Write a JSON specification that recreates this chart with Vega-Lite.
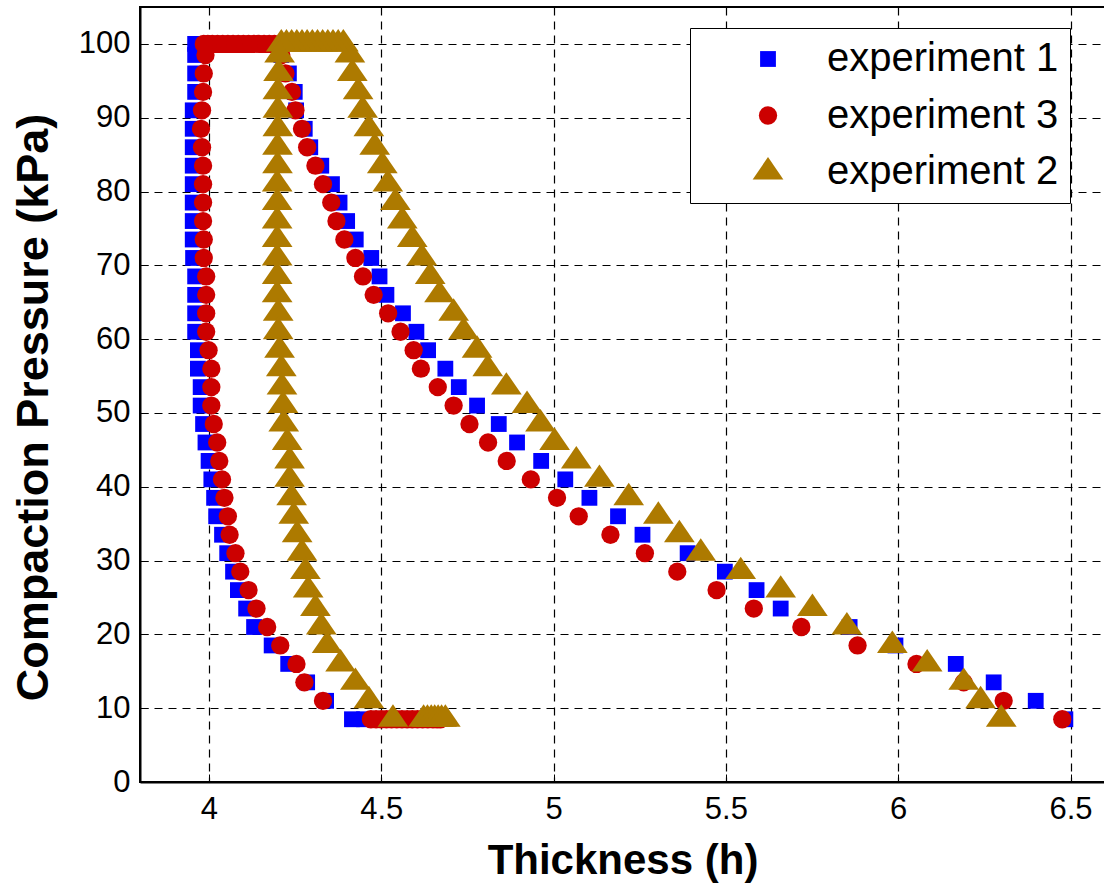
{
  "$schema": "https://vega.github.io/schema/vega-lite/v6.json",
  "width": 965,
  "height": 775,
  "autosize": {"type": "none"},
  "padding": {"left": 140, "top": 7, "right": 0, "bottom": 106},
  "background": "white",
  "config": {
    "font": "Liberation Sans",
    "view": {"stroke": "black", "strokeWidth": 2},
    "axis": {
      "domainColor": "black", "domainWidth": 2,
      "gridColor": "black", "gridDash": [8, 6], "gridWidth": 1.2, "gridOpacity": 1,
      "ticks": true, "tickSize": -8, "tickColor": "black", "tickWidth": 1,
      "labelFont": "Liberation Sans", "labelFontSize": 31, "labelColor": "black",
      "titleFont": "Liberation Sans", "titleFontWeight": "bold", "titleColor": "black"
    }
  },
  "data": {"values": [
    {"experiment": "experiment 1", "thickness": 6.485, "pressure": 8.5},
    {"experiment": "experiment 1", "thickness": 6.399, "pressure": 11},
    {"experiment": "experiment 1", "thickness": 6.277, "pressure": 13.5},
    {"experiment": "experiment 1", "thickness": 6.167, "pressure": 16},
    {"experiment": "experiment 1", "thickness": 5.992, "pressure": 18.5},
    {"experiment": "experiment 1", "thickness": 5.859, "pressure": 21},
    {"experiment": "experiment 1", "thickness": 5.659, "pressure": 23.5},
    {"experiment": "experiment 1", "thickness": 5.589, "pressure": 26},
    {"experiment": "experiment 1", "thickness": 5.497, "pressure": 28.5},
    {"experiment": "experiment 1", "thickness": 5.389, "pressure": 31},
    {"experiment": "experiment 1", "thickness": 5.258, "pressure": 33.5},
    {"experiment": "experiment 1", "thickness": 5.187, "pressure": 36},
    {"experiment": "experiment 1", "thickness": 5.104, "pressure": 38.5},
    {"experiment": "experiment 1", "thickness": 5.034, "pressure": 41},
    {"experiment": "experiment 1", "thickness": 4.964, "pressure": 43.5},
    {"experiment": "experiment 1", "thickness": 4.894, "pressure": 46},
    {"experiment": "experiment 1", "thickness": 4.841, "pressure": 48.5},
    {"experiment": "experiment 1", "thickness": 4.778, "pressure": 51},
    {"experiment": "experiment 1", "thickness": 4.725, "pressure": 53.5},
    {"experiment": "experiment 1", "thickness": 4.686, "pressure": 56},
    {"experiment": "experiment 1", "thickness": 4.636, "pressure": 58.5},
    {"experiment": "experiment 1", "thickness": 4.602, "pressure": 61},
    {"experiment": "experiment 1", "thickness": 4.563, "pressure": 63.5},
    {"experiment": "experiment 1", "thickness": 4.515, "pressure": 66},
    {"experiment": "experiment 1", "thickness": 4.495, "pressure": 68.5},
    {"experiment": "experiment 1", "thickness": 4.471, "pressure": 71},
    {"experiment": "experiment 1", "thickness": 4.426, "pressure": 73.5},
    {"experiment": "experiment 1", "thickness": 4.401, "pressure": 76},
    {"experiment": "experiment 1", "thickness": 4.379, "pressure": 78.5},
    {"experiment": "experiment 1", "thickness": 4.357, "pressure": 81},
    {"experiment": "experiment 1", "thickness": 4.326, "pressure": 83.5},
    {"experiment": "experiment 1", "thickness": 4.294, "pressure": 86},
    {"experiment": "experiment 1", "thickness": 4.278, "pressure": 88.5},
    {"experiment": "experiment 1", "thickness": 4.253, "pressure": 91},
    {"experiment": "experiment 1", "thickness": 4.249, "pressure": 93.5},
    {"experiment": "experiment 1", "thickness": 4.232, "pressure": 96},
    {"experiment": "experiment 1", "thickness": 4.21, "pressure": 98.5},
    {"experiment": "experiment 1", "thickness": 4.2, "pressure": 100},
    {"experiment": "experiment 1", "thickness": 4.17, "pressure": 100},
    {"experiment": "experiment 1", "thickness": 4.14, "pressure": 100},
    {"experiment": "experiment 1", "thickness": 4.11, "pressure": 100},
    {"experiment": "experiment 1", "thickness": 4.08, "pressure": 100},
    {"experiment": "experiment 1", "thickness": 4.05, "pressure": 100},
    {"experiment": "experiment 1", "thickness": 4.02, "pressure": 100},
    {"experiment": "experiment 1", "thickness": 3.99, "pressure": 100},
    {"experiment": "experiment 1", "thickness": 3.96, "pressure": 100},
    {"experiment": "experiment 1", "thickness": 3.96, "pressure": 98.5},
    {"experiment": "experiment 1", "thickness": 3.96, "pressure": 96},
    {"experiment": "experiment 1", "thickness": 3.96, "pressure": 93.5},
    {"experiment": "experiment 1", "thickness": 3.953, "pressure": 91},
    {"experiment": "experiment 1", "thickness": 3.953, "pressure": 88.5},
    {"experiment": "experiment 1", "thickness": 3.953, "pressure": 86},
    {"experiment": "experiment 1", "thickness": 3.953, "pressure": 83.5},
    {"experiment": "experiment 1", "thickness": 3.953, "pressure": 81},
    {"experiment": "experiment 1", "thickness": 3.953, "pressure": 78.5},
    {"experiment": "experiment 1", "thickness": 3.953, "pressure": 76},
    {"experiment": "experiment 1", "thickness": 3.953, "pressure": 73.5},
    {"experiment": "experiment 1", "thickness": 3.954, "pressure": 71},
    {"experiment": "experiment 1", "thickness": 3.96, "pressure": 68.5},
    {"experiment": "experiment 1", "thickness": 3.96, "pressure": 66},
    {"experiment": "experiment 1", "thickness": 3.96, "pressure": 63.5},
    {"experiment": "experiment 1", "thickness": 3.96, "pressure": 61},
    {"experiment": "experiment 1", "thickness": 3.968, "pressure": 58.5},
    {"experiment": "experiment 1", "thickness": 3.968, "pressure": 56},
    {"experiment": "experiment 1", "thickness": 3.976, "pressure": 53.5},
    {"experiment": "experiment 1", "thickness": 3.976, "pressure": 51},
    {"experiment": "experiment 1", "thickness": 3.983, "pressure": 48.5},
    {"experiment": "experiment 1", "thickness": 3.99, "pressure": 46},
    {"experiment": "experiment 1", "thickness": 3.999, "pressure": 43.5},
    {"experiment": "experiment 1", "thickness": 4.007, "pressure": 41},
    {"experiment": "experiment 1", "thickness": 4.015, "pressure": 38.5},
    {"experiment": "experiment 1", "thickness": 4.021, "pressure": 36},
    {"experiment": "experiment 1", "thickness": 4.038, "pressure": 33.5},
    {"experiment": "experiment 1", "thickness": 4.053, "pressure": 31},
    {"experiment": "experiment 1", "thickness": 4.07, "pressure": 28.5},
    {"experiment": "experiment 1", "thickness": 4.084, "pressure": 26},
    {"experiment": "experiment 1", "thickness": 4.108, "pressure": 23.5},
    {"experiment": "experiment 1", "thickness": 4.131, "pressure": 21},
    {"experiment": "experiment 1", "thickness": 4.182, "pressure": 18.5},
    {"experiment": "experiment 1", "thickness": 4.23, "pressure": 16},
    {"experiment": "experiment 1", "thickness": 4.285, "pressure": 13.5},
    {"experiment": "experiment 1", "thickness": 4.34, "pressure": 11},
    {"experiment": "experiment 1", "thickness": 4.415, "pressure": 8.5},
    {"experiment": "experiment 1", "thickness": 4.45, "pressure": 8.5},
    {"experiment": "experiment 1", "thickness": 4.49, "pressure": 8.5},
    {"experiment": "experiment 1", "thickness": 4.53, "pressure": 8.5},
    {"experiment": "experiment 1", "thickness": 4.57, "pressure": 8.5},
    {"experiment": "experiment 1", "thickness": 4.61, "pressure": 8.5},

    {"experiment": "experiment 3", "thickness": 6.476, "pressure": 8.5},
    {"experiment": "experiment 3", "thickness": 6.306, "pressure": 11},
    {"experiment": "experiment 3", "thickness": 6.19, "pressure": 13.5},
    {"experiment": "experiment 3", "thickness": 6.053, "pressure": 16},
    {"experiment": "experiment 3", "thickness": 5.882, "pressure": 18.5},
    {"experiment": "experiment 3", "thickness": 5.719, "pressure": 21},
    {"experiment": "experiment 3", "thickness": 5.581, "pressure": 23.5},
    {"experiment": "experiment 3", "thickness": 5.473, "pressure": 26},
    {"experiment": "experiment 3", "thickness": 5.359, "pressure": 28.5},
    {"experiment": "experiment 3", "thickness": 5.265, "pressure": 31},
    {"experiment": "experiment 3", "thickness": 5.165, "pressure": 33.5},
    {"experiment": "experiment 3", "thickness": 5.073, "pressure": 36},
    {"experiment": "experiment 3", "thickness": 5.01, "pressure": 38.5},
    {"experiment": "experiment 3", "thickness": 4.934, "pressure": 41},
    {"experiment": "experiment 3", "thickness": 4.864, "pressure": 43.5},
    {"experiment": "experiment 3", "thickness": 4.81, "pressure": 46},
    {"experiment": "experiment 3", "thickness": 4.756, "pressure": 48.5},
    {"experiment": "experiment 3", "thickness": 4.71, "pressure": 51},
    {"experiment": "experiment 3", "thickness": 4.664, "pressure": 53.5},
    {"experiment": "experiment 3", "thickness": 4.615, "pressure": 56},
    {"experiment": "experiment 3", "thickness": 4.594, "pressure": 58.5},
    {"experiment": "experiment 3", "thickness": 4.556, "pressure": 61},
    {"experiment": "experiment 3", "thickness": 4.52, "pressure": 63.5},
    {"experiment": "experiment 3", "thickness": 4.478, "pressure": 66},
    {"experiment": "experiment 3", "thickness": 4.447, "pressure": 68.5},
    {"experiment": "experiment 3", "thickness": 4.425, "pressure": 71},
    {"experiment": "experiment 3", "thickness": 4.393, "pressure": 73.5},
    {"experiment": "experiment 3", "thickness": 4.37, "pressure": 76},
    {"experiment": "experiment 3", "thickness": 4.355, "pressure": 78.5},
    {"experiment": "experiment 3", "thickness": 4.331, "pressure": 81},
    {"experiment": "experiment 3", "thickness": 4.309, "pressure": 83.5},
    {"experiment": "experiment 3", "thickness": 4.285, "pressure": 86},
    {"experiment": "experiment 3", "thickness": 4.27, "pressure": 88.5},
    {"experiment": "experiment 3", "thickness": 4.251, "pressure": 91},
    {"experiment": "experiment 3", "thickness": 4.241, "pressure": 93.5},
    {"experiment": "experiment 3", "thickness": 4.222, "pressure": 96},
    {"experiment": "experiment 3", "thickness": 4.21, "pressure": 98.5},
    {"experiment": "experiment 3", "thickness": 4.19, "pressure": 100},
    {"experiment": "experiment 3", "thickness": 4.175, "pressure": 100},
    {"experiment": "experiment 3", "thickness": 4.16, "pressure": 100},
    {"experiment": "experiment 3", "thickness": 4.145, "pressure": 100},
    {"experiment": "experiment 3", "thickness": 4.13, "pressure": 100},
    {"experiment": "experiment 3", "thickness": 4.115, "pressure": 100},
    {"experiment": "experiment 3", "thickness": 4.1, "pressure": 100},
    {"experiment": "experiment 3", "thickness": 4.085, "pressure": 100},
    {"experiment": "experiment 3", "thickness": 4.07, "pressure": 100},
    {"experiment": "experiment 3", "thickness": 4.055, "pressure": 100},
    {"experiment": "experiment 3", "thickness": 4.04, "pressure": 100},
    {"experiment": "experiment 3", "thickness": 4.025, "pressure": 100},
    {"experiment": "experiment 3", "thickness": 4.01, "pressure": 100},
    {"experiment": "experiment 3", "thickness": 3.997, "pressure": 100},
    {"experiment": "experiment 3", "thickness": 3.985, "pressure": 100},
    {"experiment": "experiment 3", "thickness": 3.99, "pressure": 98.5},
    {"experiment": "experiment 3", "thickness": 3.985, "pressure": 96},
    {"experiment": "experiment 3", "thickness": 3.983, "pressure": 93.5},
    {"experiment": "experiment 3", "thickness": 3.98, "pressure": 91},
    {"experiment": "experiment 3", "thickness": 3.977, "pressure": 88.5},
    {"experiment": "experiment 3", "thickness": 3.98, "pressure": 86},
    {"experiment": "experiment 3", "thickness": 3.983, "pressure": 83.5},
    {"experiment": "experiment 3", "thickness": 3.983, "pressure": 81},
    {"experiment": "experiment 3", "thickness": 3.983, "pressure": 78.5},
    {"experiment": "experiment 3", "thickness": 3.983, "pressure": 76},
    {"experiment": "experiment 3", "thickness": 3.985, "pressure": 73.5},
    {"experiment": "experiment 3", "thickness": 3.985, "pressure": 71},
    {"experiment": "experiment 3", "thickness": 3.992, "pressure": 68.5},
    {"experiment": "experiment 3", "thickness": 3.992, "pressure": 66},
    {"experiment": "experiment 3", "thickness": 3.992, "pressure": 63.5},
    {"experiment": "experiment 3", "thickness": 3.992, "pressure": 61},
    {"experiment": "experiment 3", "thickness": 3.999, "pressure": 58.5},
    {"experiment": "experiment 3", "thickness": 4.007, "pressure": 56},
    {"experiment": "experiment 3", "thickness": 4.007, "pressure": 53.5},
    {"experiment": "experiment 3", "thickness": 4.007, "pressure": 51},
    {"experiment": "experiment 3", "thickness": 4.014, "pressure": 48.5},
    {"experiment": "experiment 3", "thickness": 4.024, "pressure": 46},
    {"experiment": "experiment 3", "thickness": 4.03, "pressure": 43.5},
    {"experiment": "experiment 3", "thickness": 4.038, "pressure": 41},
    {"experiment": "experiment 3", "thickness": 4.045, "pressure": 38.5},
    {"experiment": "experiment 3", "thickness": 4.055, "pressure": 36},
    {"experiment": "experiment 3", "thickness": 4.06, "pressure": 33.5},
    {"experiment": "experiment 3", "thickness": 4.077, "pressure": 31},
    {"experiment": "experiment 3", "thickness": 4.091, "pressure": 28.5},
    {"experiment": "experiment 3", "thickness": 4.115, "pressure": 26},
    {"experiment": "experiment 3", "thickness": 4.138, "pressure": 23.5},
    {"experiment": "experiment 3", "thickness": 4.169, "pressure": 21},
    {"experiment": "experiment 3", "thickness": 4.207, "pressure": 18.5},
    {"experiment": "experiment 3", "thickness": 4.254, "pressure": 16},
    {"experiment": "experiment 3", "thickness": 4.277, "pressure": 13.5},
    {"experiment": "experiment 3", "thickness": 4.331, "pressure": 11},
    {"experiment": "experiment 3", "thickness": 4.47, "pressure": 8.5},
    {"experiment": "experiment 3", "thickness": 4.485, "pressure": 8.5},
    {"experiment": "experiment 3", "thickness": 4.5, "pressure": 8.5},
    {"experiment": "experiment 3", "thickness": 4.515, "pressure": 8.5},
    {"experiment": "experiment 3", "thickness": 4.53, "pressure": 8.5},
    {"experiment": "experiment 3", "thickness": 4.545, "pressure": 8.5},
    {"experiment": "experiment 3", "thickness": 4.56, "pressure": 8.5},
    {"experiment": "experiment 3", "thickness": 4.575, "pressure": 8.5},
    {"experiment": "experiment 3", "thickness": 4.59, "pressure": 8.5},
    {"experiment": "experiment 3", "thickness": 4.605, "pressure": 8.5},
    {"experiment": "experiment 3", "thickness": 4.62, "pressure": 8.5},
    {"experiment": "experiment 3", "thickness": 4.635, "pressure": 8.5},
    {"experiment": "experiment 3", "thickness": 4.65, "pressure": 8.5},
    {"experiment": "experiment 3", "thickness": 4.662, "pressure": 8.5},
    {"experiment": "experiment 3", "thickness": 4.672, "pressure": 8.5},

    {"experiment": "experiment 2", "thickness": 6.299, "pressure": 8.5},
    {"experiment": "experiment 2", "thickness": 6.239, "pressure": 11},
    {"experiment": "experiment 2", "thickness": 6.19, "pressure": 13.5},
    {"experiment": "experiment 2", "thickness": 6.084, "pressure": 16},
    {"experiment": "experiment 2", "thickness": 5.983, "pressure": 18.5},
    {"experiment": "experiment 2", "thickness": 5.851, "pressure": 21},
    {"experiment": "experiment 2", "thickness": 5.751, "pressure": 23.5},
    {"experiment": "experiment 2", "thickness": 5.659, "pressure": 26},
    {"experiment": "experiment 2", "thickness": 5.543, "pressure": 28.5},
    {"experiment": "experiment 2", "thickness": 5.427, "pressure": 31},
    {"experiment": "experiment 2", "thickness": 5.365, "pressure": 33.5},
    {"experiment": "experiment 2", "thickness": 5.304, "pressure": 36},
    {"experiment": "experiment 2", "thickness": 5.218, "pressure": 38.5},
    {"experiment": "experiment 2", "thickness": 5.133, "pressure": 41},
    {"experiment": "experiment 2", "thickness": 5.066, "pressure": 43.5},
    {"experiment": "experiment 2", "thickness": 5.003, "pressure": 46},
    {"experiment": "experiment 2", "thickness": 4.962, "pressure": 48.5},
    {"experiment": "experiment 2", "thickness": 4.923, "pressure": 51},
    {"experiment": "experiment 2", "thickness": 4.863, "pressure": 53.5},
    {"experiment": "experiment 2", "thickness": 4.809, "pressure": 56},
    {"experiment": "experiment 2", "thickness": 4.778, "pressure": 58.5},
    {"experiment": "experiment 2", "thickness": 4.739, "pressure": 61},
    {"experiment": "experiment 2", "thickness": 4.71, "pressure": 63.5},
    {"experiment": "experiment 2", "thickness": 4.669, "pressure": 66},
    {"experiment": "experiment 2", "thickness": 4.642, "pressure": 68.5},
    {"experiment": "experiment 2", "thickness": 4.618, "pressure": 71},
    {"experiment": "experiment 2", "thickness": 4.59, "pressure": 73.5},
    {"experiment": "experiment 2", "thickness": 4.561, "pressure": 76},
    {"experiment": "experiment 2", "thickness": 4.541, "pressure": 78.5},
    {"experiment": "experiment 2", "thickness": 4.519, "pressure": 81},
    {"experiment": "experiment 2", "thickness": 4.503, "pressure": 83.5},
    {"experiment": "experiment 2", "thickness": 4.481, "pressure": 86},
    {"experiment": "experiment 2", "thickness": 4.464, "pressure": 88.5},
    {"experiment": "experiment 2", "thickness": 4.446, "pressure": 91},
    {"experiment": "experiment 2", "thickness": 4.433, "pressure": 93.5},
    {"experiment": "experiment 2", "thickness": 4.416, "pressure": 96},
    {"experiment": "experiment 2", "thickness": 4.409, "pressure": 98.5},
    {"experiment": "experiment 2", "thickness": 4.39, "pressure": 100},
    {"experiment": "experiment 2", "thickness": 4.375, "pressure": 100},
    {"experiment": "experiment 2", "thickness": 4.36, "pressure": 100},
    {"experiment": "experiment 2", "thickness": 4.345, "pressure": 100},
    {"experiment": "experiment 2", "thickness": 4.33, "pressure": 100},
    {"experiment": "experiment 2", "thickness": 4.315, "pressure": 100},
    {"experiment": "experiment 2", "thickness": 4.3, "pressure": 100},
    {"experiment": "experiment 2", "thickness": 4.285, "pressure": 100},
    {"experiment": "experiment 2", "thickness": 4.27, "pressure": 100},
    {"experiment": "experiment 2", "thickness": 4.255, "pressure": 100},
    {"experiment": "experiment 2", "thickness": 4.24, "pressure": 100},
    {"experiment": "experiment 2", "thickness": 4.225, "pressure": 100},
    {"experiment": "experiment 2", "thickness": 4.21, "pressure": 100},
    {"experiment": "experiment 2", "thickness": 4.205, "pressure": 98.5},
    {"experiment": "experiment 2", "thickness": 4.202, "pressure": 96},
    {"experiment": "experiment 2", "thickness": 4.2, "pressure": 93.5},
    {"experiment": "experiment 2", "thickness": 4.2, "pressure": 91},
    {"experiment": "experiment 2", "thickness": 4.2, "pressure": 88.5},
    {"experiment": "experiment 2", "thickness": 4.199, "pressure": 86},
    {"experiment": "experiment 2", "thickness": 4.199, "pressure": 83.5},
    {"experiment": "experiment 2", "thickness": 4.198, "pressure": 81},
    {"experiment": "experiment 2", "thickness": 4.198, "pressure": 78.5},
    {"experiment": "experiment 2", "thickness": 4.198, "pressure": 76},
    {"experiment": "experiment 2", "thickness": 4.198, "pressure": 73.5},
    {"experiment": "experiment 2", "thickness": 4.198, "pressure": 71},
    {"experiment": "experiment 2", "thickness": 4.198, "pressure": 68.5},
    {"experiment": "experiment 2", "thickness": 4.198, "pressure": 66},
    {"experiment": "experiment 2", "thickness": 4.201, "pressure": 63.5},
    {"experiment": "experiment 2", "thickness": 4.201, "pressure": 61},
    {"experiment": "experiment 2", "thickness": 4.205, "pressure": 58.5},
    {"experiment": "experiment 2", "thickness": 4.21, "pressure": 56},
    {"experiment": "experiment 2", "thickness": 4.212, "pressure": 53.5},
    {"experiment": "experiment 2", "thickness": 4.215, "pressure": 51},
    {"experiment": "experiment 2", "thickness": 4.217, "pressure": 48.5},
    {"experiment": "experiment 2", "thickness": 4.227, "pressure": 46},
    {"experiment": "experiment 2", "thickness": 4.234, "pressure": 43.5},
    {"experiment": "experiment 2", "thickness": 4.234, "pressure": 41},
    {"experiment": "experiment 2", "thickness": 4.24, "pressure": 38.5},
    {"experiment": "experiment 2", "thickness": 4.246, "pressure": 36},
    {"experiment": "experiment 2", "thickness": 4.256, "pressure": 33.5},
    {"experiment": "experiment 2", "thickness": 4.27, "pressure": 31},
    {"experiment": "experiment 2", "thickness": 4.28, "pressure": 28.5},
    {"experiment": "experiment 2", "thickness": 4.288, "pressure": 26},
    {"experiment": "experiment 2", "thickness": 4.309, "pressure": 23.5},
    {"experiment": "experiment 2", "thickness": 4.326, "pressure": 21},
    {"experiment": "experiment 2", "thickness": 4.343, "pressure": 18.5},
    {"experiment": "experiment 2", "thickness": 4.382, "pressure": 16},
    {"experiment": "experiment 2", "thickness": 4.425, "pressure": 13.5},
    {"experiment": "experiment 2", "thickness": 4.464, "pressure": 11},
    {"experiment": "experiment 2", "thickness": 4.534, "pressure": 8.5},
    {"experiment": "experiment 2", "thickness": 4.623, "pressure": 8.5},
    {"experiment": "experiment 2", "thickness": 4.634, "pressure": 8.5},
    {"experiment": "experiment 2", "thickness": 4.645, "pressure": 8.5},
    {"experiment": "experiment 2", "thickness": 4.655, "pressure": 8.5},
    {"experiment": "experiment 2", "thickness": 4.665, "pressure": 8.5},
    {"experiment": "experiment 2", "thickness": 4.675, "pressure": 8.5},
    {"experiment": "experiment 2", "thickness": 4.686, "pressure": 8.5}
  ]},
  "mark": {"type": "point", "filled": true, "opacity": 1, "strokeWidth": 0},
  "encoding": {
    "x": {
      "field": "thickness", "type": "quantitative",
      "scale": {"domain": [3.8, 6.6], "nice": false, "zero": false},
      "axis": {
        "values": [4, 4.5, 5, 5.5, 6, 6.5], "format": "~g",
        "title": "Thickness (h)", "titleFontSize": 42,
        "titleBaseline": "alphabetic", "titleY": 91,
        "labelPadding": 20
      }
    },
    "y": {
      "field": "pressure", "type": "quantitative",
      "scale": {"domain": [0, 105], "nice": false, "zero": false},
      "axis": {
        "values": [0, 10, 20, 30, 40, 50, 60, 70, 80, 90, 100],
        "title": "Compaction Pressure (kPa)", "titleFontSize": 45,
        "titleBaseline": "alphabetic", "titleAngle": 270, "titleX": -93, "titleY": 400,
        "labelPadding": 18
      }
    },
    "color": {
      "field": "experiment", "type": "nominal",
      "scale": {"domain": ["experiment 1", "experiment 3", "experiment 2"], "range": ["#0000ff", "#cc0000", "#ad7a00"]},
      "legend": {
        "title": null, "orient": "none", "legendX": 550, "legendY": 21,
        "fillColor": "white", "strokeColor": "black", "padding": 11,
        "labelFontSize": 40, "labelFont": "Liberation Sans", "labelColor": "black",
        "labelExpr": "datum.label + '\u00a0\u00a0\u00a0\u00a0'",
        "labelOffset": 39, "symbolOffset": 47, "rowPadding": 16.5,
        "symbolStrokeWidth": 0, "symbolOpacity": 1, "labelLimit": 500
      }
    },
    "shape": {
      "field": "experiment", "type": "nominal",
      "scale": {"domain": ["experiment 1", "experiment 3", "experiment 2"], "range": ["square", "circle", "M0,-1.46L1.5,0.73L-1.5,0.73Z"]}
    },
    "size": {
      "field": "experiment", "type": "nominal",
      "scale": {"domain": ["experiment 1", "experiment 3", "experiment 2"], "range": [250, 420, 900]}
    }
  }
}
